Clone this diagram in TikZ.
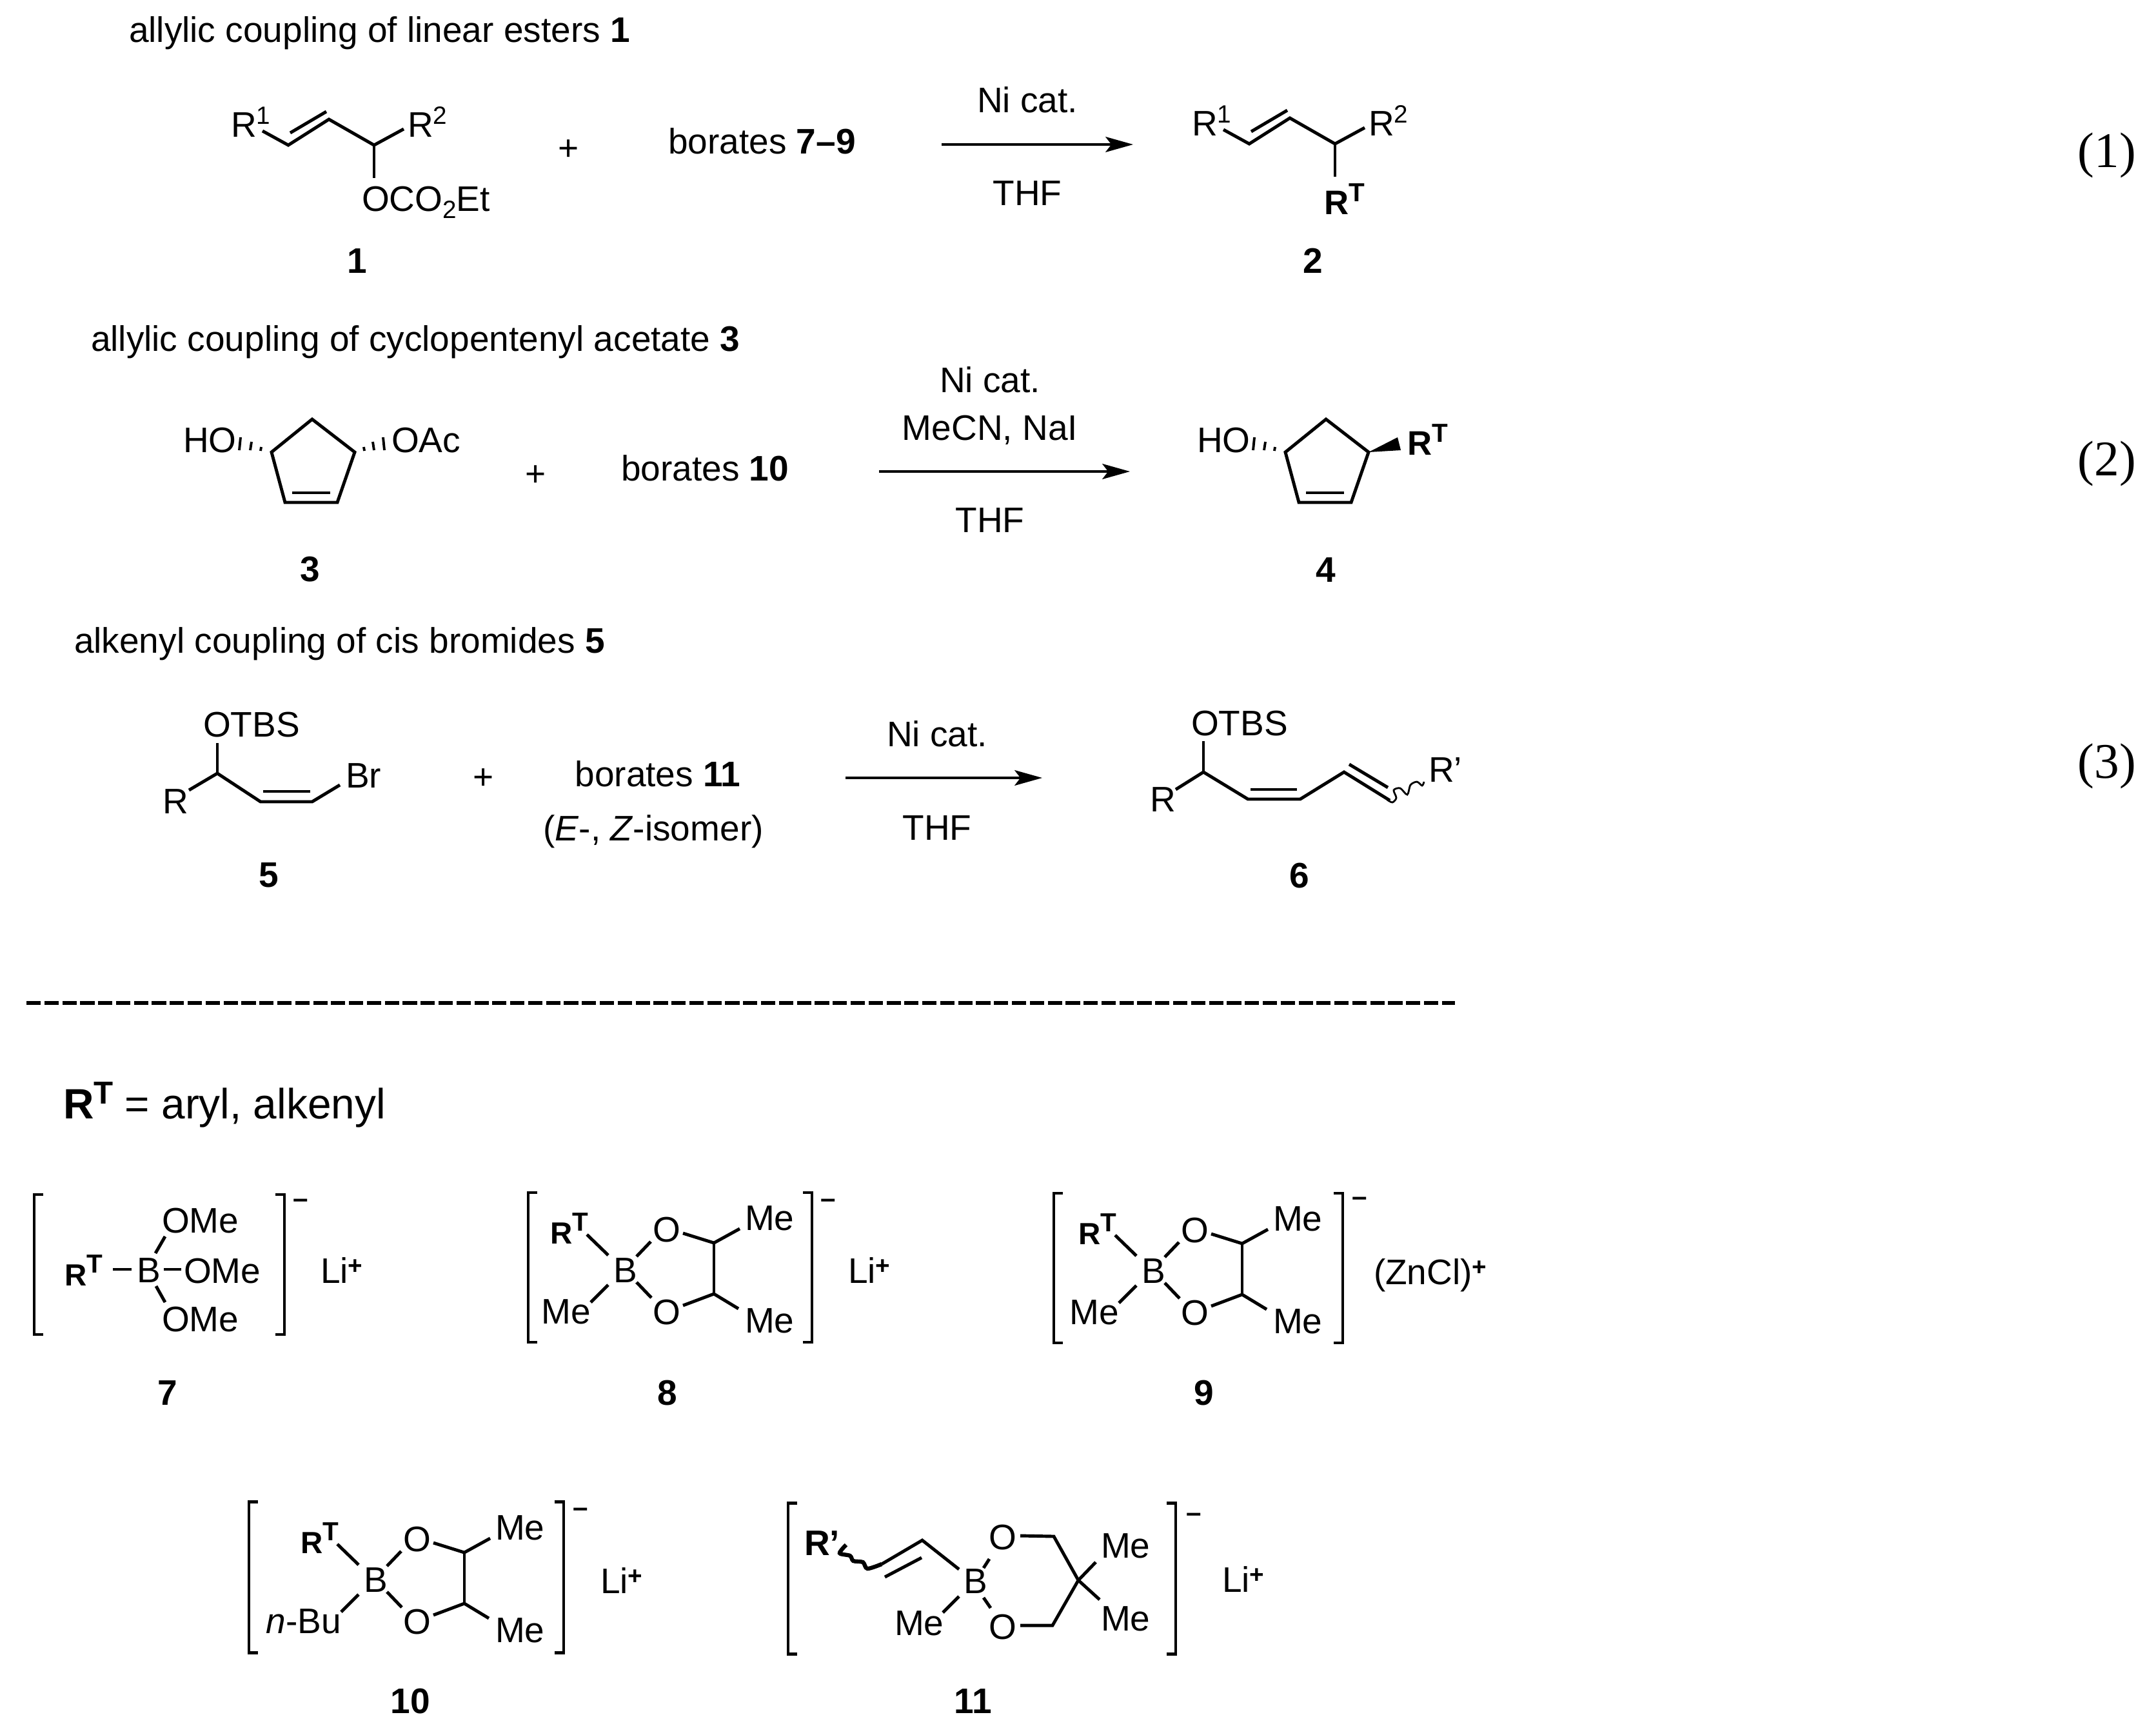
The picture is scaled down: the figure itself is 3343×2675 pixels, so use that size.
\documentclass[tikz,border=0pt]{standalone}
\usepackage{fontspec}
\setmainfont{Liberation Sans}
\newfontfamily\eqfont{Liberation Serif}
\usetikzlibrary{arrows.meta}
\newcommand\txs{\fontsize{11}{13}\selectfont}
\newcommand\upi[1]{\raisebox{5.5pt}{\txs #1}}
\newcommand\dni[1]{\raisebox{-3.4pt}{\txs #1}}
\newcommand\plusi{\raisebox{3.8pt}{\txs\bfseries +}}
\newcommand\RTa{{\bfseries\fontsize{15}{18}\selectfont R\raisebox{5.5pt}{\fontsize{11.5}{13}\selectfont T}}}
\newcommand\RTb{{\bfseries\fontsize{13.5}{16}\selectfont R\raisebox{5.5pt}{\fontsize{11.5}{13}\selectfont T}}}
\tikzset{
  lbl/.style={inner sep=0pt,outer sep=0pt,anchor=base west,font=\fontsize{15.65}{18}\selectfont},
  lblc/.style={lbl,anchor=base},
  lble/.style={lbl,anchor=base east},
  eqn/.style={lbl,anchor=base east,font=\eqfont\fontsize{22}{26}\selectfont},
  chg/.style={inner sep=0pt,anchor=center,font=\fontsize{12}{14}\selectfont\bfseries},
  bond/.style={line width=1.4pt,line cap=butt,line join=miter},
  thin wave/.style={line width=.8pt},
  thick wave/.style={line width=1.8pt},
  hash/.style={line width=1.1pt},
  rxn/.style={line width=.95pt,-{Stealth[length=12.2pt,width=6.8pt,inset=2.6pt]}},
  brk/.style={line width=1.4pt,line join=miter},
  rule/.style={line width=1.6pt,dash pattern=on 6.3pt off 1.6pt}
}
% bracket pair: left, right, top, bottom
\newcommand\brackets[4]{%
  \draw[brk] (#1+14,#3) -- (#1,#3) -- (#1,#4) -- (#1+14,#4);
  \draw[brk] (#2-14,#3) -- (#2,#3) -- (#2,#4) -- (#2-14,#4);}
% dioxaborolane core in the coordinates of 8
\newcommand\borolane[2]{%
  \node[lbl] (#1rt) at (858,1928) {\RTb};
  \node[lbl] (#1ot) at (1017,1925) {O};
  \node[lbl] (#1b)  at (956,1988) {B};
  \node[lble] (#1ll) at (921,2052) {#2};
  \node[lbl] (#1ob) at (1017,2053) {O};
  \node[lbl] (#1mt) at (1160,1907) {Me};
  \node[lbl] (#1mb) at (1160,2066) {Me};
  \draw[bond] (915,1914) -- (948,1946);
  \draw[bond] (1014,1925) -- (992,1948);
  \draw[bond] (948,1992) -- (921,2019);
  \draw[bond] (992,1988) -- (1015,2012);
  \draw[bond] (1064,1912) -- (1112,1927) -- (1152,1905);
  \draw[bond] (1112,1927) -- (1112,2006);
  \draw[bond] (1064,2024) -- (1112,2006) -- (1150,2029);}
\begin{document}
\begin{tikzpicture}[x=0.01cm,y=-0.01cm]
\useasboundingbox (0,0) rectangle (3343,2675);

%% reaction 1
\node[lbl] (t1) at (200,65) {allylic coupling of linear esters \textbf{1}};
\begin{scope}
 \node[lbl] (r1a) at (358,212) {R\upi{1}};
 \node[lbl] (r2a) at (632,212) {R\upi{2}};
 \node[lbl] (oco) at (561,327) {OCO\dni{2}Et};
 \draw[bond] (407,203) -- (447,225) -- (510,185) -- (580,225) -- (626,200);
 \draw[bond] (450,206) -- (506,173);
 \draw[bond] (580,225) -- (580,276);
\end{scope}
\node[lblc] (n1) at (554,423) {\textbf{1}};
\node[lblc] (p1) at (882,248) {+};
\node[lbl] (bo1) at (1036,238) {borates \textbf{7–9}};
\coordinate (a1s) at (1460,224);
\coordinate (a1e) at (1757,224);
\draw[rxn] (a1s) -- (a1e);
\node[lblc] (c1) at (1593,174) {Ni cat.};
\node[lblc] (s1) at (1593,318) {THF};
\begin{scope}[shift={(1490,-2)}]
 \node[lbl] (r1b) at (358,212) {R\upi{1}};
 \node[lbl] (r2b) at (632,212) {R\upi{2}};
 \draw[bond] (407,203) -- (447,225) -- (510,185) -- (580,225) -- (626,200);
 \draw[bond] (450,206) -- (506,173);
 \draw[bond] (580,225) -- (580,276);
\end{scope}
\node[lbl] (rt2) at (2053,332) {\RTa};
\node[lblc] (n2) at (2036,423) {\textbf{2}};
\node[eqn] (e1) at (3312,259) {(1)};

%% reaction 2
\node[lbl] (t2) at (141,544) {allylic coupling of cyclopentenyl acetate \textbf{3}};
\node[lbl] (ho3) at (284,701) {HO};
\node[lbl] (oac) at (607,701) {OAc};
\draw[bond] (484,650) -- (550,701) -- (523,779) -- (442,779) -- (421,701) -- cycle;
\draw[bond] (453,764) -- (512,764);
\draw[hash] (373,678) -- (371,698);
\draw[hash] (390,685) -- (388,698);
\draw[hash] (405,693) -- (404,699);
\draw[hash] (564,693) -- (565,699);
\draw[hash] (578,685) -- (580,698);
\draw[hash] (594,678) -- (596,698);
\node[lblc] (n3) at (481,901) {\textbf{3}};
\node[lblc] (p2) at (831,753) {+};
\node[lbl] (bo2) at (963,745) {borates \textbf{10}};
\coordinate (a2s) at (1363,731);
\coordinate (a2e) at (1752,731);
\draw[rxn] (a2s) -- (a2e);
\node[lblc] (c2) at (1535,608) {Ni cat.};
\node[lblc] (c2b) at (1535,682) {MeCN, NaI};
\node[lblc] (s2) at (1535,825) {THF};
\node[lbl] (ho4) at (1856,701) {HO};
\draw[bond] (2056,650) -- (2122,701) -- (2095,779) -- (2014,779) -- (1993,701) -- cycle;
\draw[bond] (2025,764) -- (2084,764);
\draw[hash] (1945,678) -- (1943,698);
\draw[hash] (1962,685) -- (1960,698);
\draw[hash] (1977,693) -- (1976,699);
\fill (2122,701) -- (2167,678) -- (2172,698) -- cycle;
\node[lbl] (rt4) at (2182,705) {\RTa};
\node[lblc] (n4) at (2056,902) {\textbf{4}};
\node[eqn] (e2) at (3312,737) {(2)};

%% reaction 3
\node[lbl] (t3) at (115,1012) {alkenyl coupling of cis bromides \textbf{5}};
\node[lbl] (otbs5) at (315,1142) {OTBS};
\node[lbl] (r5) at (252,1261) {R};
\node[lbl] (br) at (536,1221) {Br};
\draw[bond] (337,1152) -- (337,1199);
\draw[bond] (293,1225) -- (337,1199) -- (404,1243) -- (484,1243) -- (527,1217);
\draw[bond] (408,1227) -- (481,1227);
\node[lblc] (n5) at (417,1375) {\textbf{5}};
\node[lblc] (p3) at (750,1223) {+};
\node[lblc] (bo3) at (1020,1219) {borates \textbf{11}};
\node[lblc] (iso) at (1013,1303) {(\textit{E}-, \textit{Z}-isomer)};
\coordinate (a3s) at (1311,1206);
\coordinate (a3e) at (1616,1206);
\draw[rxn] (a3s) -- (a3e);
\node[lblc] (c3) at (1453,1157) {Ni cat.};
\node[lblc] (s3) at (1453,1302) {THF};
\begin{scope}[shift={(-3,0)}]
\node[lbl] (otbs6) at (1850,1140) {OTBS};
\node[lbl] (r6) at (1786,1258) {R};
\draw[bond] (1869,1149) -- (1869,1197);
\draw[bond] (1826,1224) -- (1869,1197) -- (1938,1239) -- (2019,1239) -- (2087,1197) -- (2158,1241);
\draw[bond] (1942,1224) -- (2014,1224);
\draw[bond] (2095,1185) -- (2155,1221);
\draw[thin wave] plot[smooth] coordinates {(2154,1240) (2162,1244) (2168,1237) (2164,1225) (2174,1222) (2185,1232) (2190,1217) (2200,1212) (2208,1218) (2211,1212)};
\node[lblc] (n6) at (2018,1376) {\textbf{6}};
\end{scope}
\node[lbl] (rp6) at (2215,1212) {R’};
\node[eqn] (e3) at (3312,1206) {(3)};

%% separator
\coordinate (rs) at (41,1555);
\coordinate (re) at (2256,1555);
\draw[rule] (rs) -- (re);

\node[lbl,font=\fontsize{18.7}{22}\selectfont] (rtdef) at (98,1734) {{\bfseries R\raisebox{6.5pt}{\fontsize{14}{16}\selectfont T}} = aryl, alkenyl};

%% borate 7
\brackets{53}{441}{1852}{2069}
\node[chg] (m7) at (466,1866) {–};
\node[lbl] (o7a) at (251,1911) {OMe};
\node[lbl] (rt7) at (100,1993) {\RTb};
\node[lbl] (b7) at (212,1988) {B};
\node[lbl] (o7b) at (285,1989) {OMe};
\node[lbl] (o7c) at (251,2064) {OMe};
\draw[bond] (175,1968) -- (204,1968);
\draw[bond] (254,1968) -- (281,1968);
\draw[bond] (241,1943) -- (256,1917);
\draw[bond] (242,1994) -- (256,2019);
\node[lbl] (li7) at (497,1989) {Li\plusi};
\node[lblc] (n7) at (260,2178) {\textbf{7}};

%% borate 8
\brackets{819}{1259}{1849}{2081}
\node[chg] (m8) at (1284,1866) {–};
\begin{scope}[shift={(-5,0)}]
\borolane{a}{Me}
\end{scope}
\node[lbl] (li8) at (1315,1989) {Li\plusi};
\node[lblc] (n8) at (1035,2178) {\textbf{8}};

%% borate 9
\brackets{1634}{2082}{1850}{2082}
\node[chg] (m9) at (2108,1863) {–};
\begin{scope}[shift={(814,1)}]
\borolane{c}{Me}
\end{scope}
\node[lbl] (zn) at (2130,1991) {(ZnCl)\plusi};
\node[lblc] (n9) at (1867,2178) {\textbf{9}};

%% borate 10
\brackets{386}{874}{2328}{2562}
\node[chg] (m10) at (900,2345) {–};
\begin{scope}[shift={(-392,480)}]
\borolane{d}{\textit{n}-Bu}
\end{scope}
\node[lbl] (li10) at (931,2470) {Li\plusi};
\node[lblc] (n10) at (636,2656) {\textbf{10}};

%% borate 11
\brackets{1222}{1823}{2330}{2564}
\node[chg] (m11) at (1851,2353) {–};
\begin{scope}[shift={(-6,0)}]
\node[lbl] (rp11) at (1253,2411) {\textbf{R’}};
\node[lbl] (o11a) at (1539,2402) {O};
\node[lbl] (o11b) at (1539,2541) {O};
\node[lbl] (b11) at (1500,2470) {B};
\node[lbl] (me11a) at (1393,2535) {Me};
\node[lbl] (me11b) at (1713,2415) {Me};
\node[lbl] (me11c) at (1713,2528) {Me};
\draw[bond] (1493,2433) -- (1436,2388) -- (1373,2425);
\draw[bond] (1435,2415) -- (1378,2445);
\draw[thick wave] plot[smooth] coordinates {(1373,2425) (1351,2432) (1344,2422) (1329,2420) (1324,2412) (1308,2408) (1318,2395)};
\draw[bond] (1493,2475) -- (1468,2500);
\draw[bond] (1531,2431) -- (1540,2417);
\draw[bond] (1531,2477) -- (1542,2493);
\draw[bond] (1588,2381) -- (1640,2382) -- (1678,2450) -- (1638,2520) -- (1588,2520);
\draw[bond] (1678,2450) -- (1705,2422);
\draw[bond] (1678,2450) -- (1711,2480);
\end{scope}
\node[lbl] (li11) at (1895,2468) {Li\plusi};
\node[lblc] (n11) at (1509,2656) {\textbf{11}};
\end{tikzpicture}
\end{document}
